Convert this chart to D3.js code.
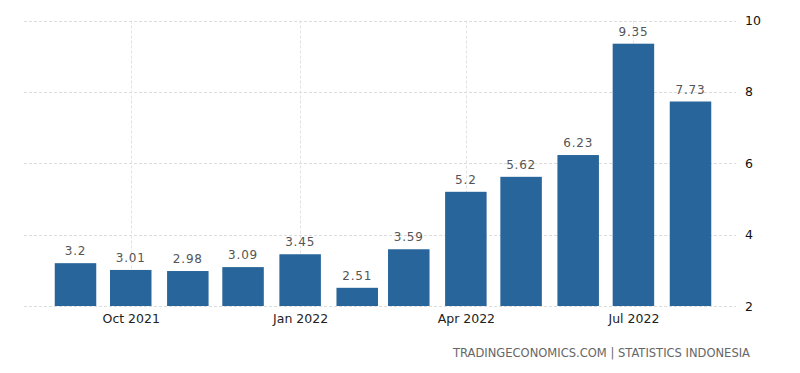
<!DOCTYPE html>
<html>
<head>
<meta charset="utf-8">
<script src="https://cdn.jsdelivr.net/npm/d3@7"></script>
<style>
    body { margin: 0; background: #fff; }
    svg { display: block; font-family: "DejaVu Sans", sans-serif; }
</style>
</head>
<body>
<div class="js-chart"></div>
<script>
'use strict';

// data
const months = ['2021-09-01', '2021-10-01', '2021-11-01', '2021-12-01', '2022-01-01', '2022-02-01',
    '2022-03-01', '2022-04-01', '2022-05-01', '2022-06-01', '2022-07-01', '2022-08-01'];
const values = [3.2, 3.01, 2.98, 3.09, 3.45, 2.51, 3.59, 5.2, 5.62, 6.23, 9.35, 7.73];
const xTickDates = ['2021-10-01', '2022-01-01', '2022-04-01', '2022-07-01'];
const yTicks = [2, 4, 6, 8, 10];
const source = 'TRADINGECONOMICS.COM | STATISTICS INDONESIA';

const data = months.map((m, i) => ({ date: new Date(m), value: values[i] }));

const width = 800;
const height = 373;

const svg = d3.select('.js-chart')
    .append('svg')
    .attr('width', width)
    .attr('height', height);

// scales
const x = d3.scaleUtc()
    .domain([new Date('2021-09-01'), new Date('2022-08-01')])
    .range([75.5, 690.5]);
const y = d3.scaleLinear().domain([2, 10]).range([306, 20.5]);

const barWidth = 41.5;

// horizontal grid
svg.append('g')
    .selectAll('line')
    .data(yTicks)
    .enter()
    .append('line')
    .attr('x1', 24)
    .attr('x2', 736)
    .attr('y1', d => Math.round(y(d)) + 0.5)
    .attr('y2', d => Math.round(y(d)) + 0.5)
    .attr('stroke', '#dcdcdc')
    .attr('stroke-dasharray', '3,2');

// vertical grid
svg.append('g')
    .selectAll('line')
    .data(xTickDates)
    .enter()
    .append('line')
    .attr('x1', d => Math.round(x(new Date(d))) + 0.5)
    .attr('x2', d => Math.round(x(new Date(d))) + 0.5)
    .attr('y1', y(10))
    .attr('y2', y(2))
    .attr('stroke', '#e2e2e2')
    .attr('stroke-dasharray', '3,2');

// bars
svg.append('g')
    .selectAll('rect')
    .data(data)
    .enter()
    .append('rect')
    .attr('x', d => x(d.date) - barWidth / 2)
    .attr('width', barWidth)
    .attr('y', d => y(d.value))
    .attr('height', d => y(2) - y(d.value))
    .attr('fill', '#28659a');

// value labels
svg.append('g')
    .selectAll('text')
    .data(data)
    .enter()
    .append('text')
    .attr('x', d => x(d.date))
    .attr('y', d => y(d.value) - 8)
    .attr('text-anchor', 'middle')
    .attr('font-size', 12)
    .attr('letter-spacing', 0.8)
    .attr('fill', '#555')
    .text(d => d.value);

// x axis
const xAxis = d3.axisBottom(x)
    .tickValues(xTickDates.map(d => new Date(d)))
    .tickSize(0)
    .tickPadding(8)
    .tickFormat(d3.utcFormat('%b %Y'));

const xAxisGroup = svg.append('g')
    .attr('transform', `translate(0, ${y(2)})`)
    .call(xAxis);
xAxisGroup.select('.domain').remove();
xAxisGroup.selectAll('text')
    .attr('font-size', 12.5)
    .attr('font-family', '"DejaVu Sans", sans-serif')
    .attr('fill', '#222');

// y axis (right)
const yAxis = d3.axisRight(y)
    .tickValues(yTicks)
    .tickSize(0)
    .tickPadding(0);

const yAxisGroup = svg.append('g')
    .attr('transform', 'translate(745, 0)')
    .call(yAxis);
yAxisGroup.select('.domain').remove();
yAxisGroup.selectAll('text')
    .attr('font-size', 12.5)
    .attr('font-family', '"DejaVu Sans", sans-serif')
    .attr('fill', '#111');

// source
svg.append('text')
    .attr('x', 750)
    .attr('y', 357)
    .attr('text-anchor', 'end')
    .attr('font-size', 12)
    .attr('fill', '#666')
    .attr('textLength', 297)
    .attr('lengthAdjust', 'spacingAndGlyphs')
    .text(source);
</script>
</body>
</html>
